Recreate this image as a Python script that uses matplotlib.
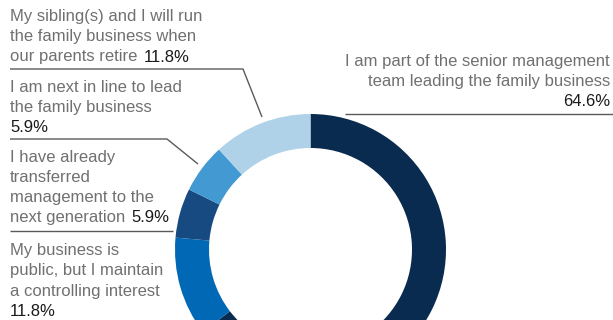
import matplotlib.pyplot as plt

# доли ответов (по часовой стрелке от верхней точки)
shares = [64.6, 11.8, 5.9, 5.9, 11.8]
colors = ['#0a2b50', '#0068b5', '#174a80', '#4399d1', '#afd2e9']

# подписи: строки серым цветом, процент чёрным
labels_left = [
    (['My sibling(s) and I will run', 'the family business when', 'our parents retire'], '11.8%'),
    (['I am next in line to lead', 'the family business', ''], '5.9%'),
    (['I have already', 'transferred', 'management to the', 'next generation'], '5.9%'),
    (['My business is', 'public, but I maintain', 'a controlling interest', ''], '11.8%'),
]
label_right = (['I am part of the senior management', 'team leading the family business'], '64.6%')

W, H = 613, 320
GRAY = '#707070'
BLACK = '#1a1a1a'
RULE = '#5a5a5a'
FS = 12
plt.rcParams['font.family'] = ['Liberation Sans', 'DejaVu Sans']

fig = plt.figure(figsize=(W / 100, H / 100), dpi=100)
ax = fig.add_axes([0, 0, 1, 1])


def Y(py):
    # пиксели сверху -> координаты снизу
    return H - py


ax.pie(shares, colors=colors, startangle=90, counterclock=False,
       radius=135.5, center=(310.5, Y(249.5)),
       wedgeprops=dict(width=34, linewidth=0))
ax.set_xlim(0, W)
ax.set_ylim(0, H)
ax.set_aspect('equal')
ax.axis('off')


def put_block(lines, pct, x, baselines):
    # последняя строка + процент в конце
    for i, (line, y) in enumerate(zip(lines, baselines)):
        last = i == len(lines) - 1
        if last and line == '':
            ax.text(x, Y(y), pct, color=BLACK, fontsize=FS, va='baseline', ha='left')
            continue
        t = ax.text(x, Y(y), line, color=GRAY, fontsize=FS, va='baseline', ha='left')
        if last:
            ax.annotate(pct, xy=(1, 0), xycoords=t, xytext=(6, 0),
                        textcoords='offset pixels', color=BLACK, fontsize=FS,
                        va='bottom', ha='left')


block_baselines = [
    [20.5, 41, 61.5],
    [92, 112, 132],
    [162, 182, 202, 222],
    [255, 275, 296, 316],
]
for (lines, pct), bl in zip(labels_left, block_baselines):
    put_block(lines, pct, 10, bl)

# правая подпись, выравнивание по правому краю
for line, y in zip(label_right[0] + [label_right[1]], [66, 86, 106]):
    c = BLACK if line.endswith('%') else GRAY
    ax.text(610, Y(y), line, color=c, fontsize=FS, va='baseline', ha='right')

# линии-выноски
rules = [
    ([10, 243, 262], [69, 69, 117]),
    ([10, 167, 198], [139, 139, 164]),
    ([10, 173], [231, 231]),
    ([345, 613], [114, 114]),
]
for xs, ys in rules:
    ax.plot(xs, [Y(v) for v in ys], color=RULE, lw=1.0, solid_capstyle='butt')

fig.savefig('out.png', dpi=100)
